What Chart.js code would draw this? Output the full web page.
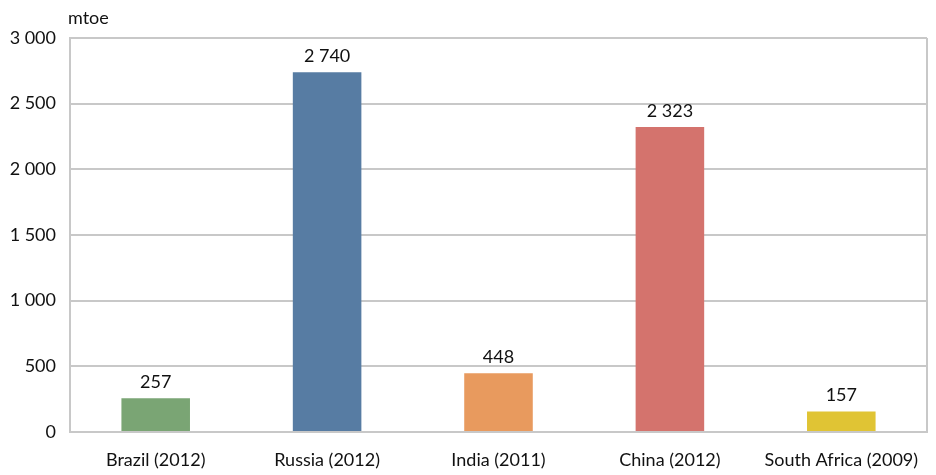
<!DOCTYPE html>
<html lang="en">
  <head>
    <meta charset="UTF-8" />
    <script src="https://cdn.jsdelivr.net/npm/chart.js@4/dist/chart.umd.min.js"></script>
    <title>Energy production</title>
    <style>
      body { margin: 0; background: #fff; }
      #wrap { width: 936px; height: 475px; }
    </style>
  </head>
  <body>
    <div id="wrap"><canvas id="myChart"></canvas></div>
    <script>
      const countries = ["Brazil (2012)", "Russia (2012)", "India (2011)", "China (2012)", "South Africa (2009)"];
      const values = [257, 2740, 448, 2323, 157];
      const barColors = ["#7aa574", "#577ca3", "#e89a5e", "#d4736d", "#e0c434"];
      const unitLabel = "mtoe";

      const fontFamily = "Lato, 'Open Sans', sans-serif";

      function fmt(v) {
        return String(v).replace(/\B(?=(\d{3})+(?!\d))/g, " ");
      }

      // draws the value above each bar and the unit above the axis
      const labelsPlugin = {
        id: "labels",
        afterDatasetsDraw(chart) {
          const ctx = chart.ctx;
          ctx.save();
          ctx.fillStyle = "#111";
          ctx.font = "18px " + fontFamily;
          ctx.textAlign = "center";
          ctx.textBaseline = "bottom";
          chart.getDatasetMeta(0).data.forEach((bar, i) => {
            ctx.fillText(fmt(values[i]), bar.x, bar.y - 7);
          });
          ctx.textAlign = "left";
          ctx.textBaseline = "middle";
          ctx.fillText(unitLabel, chart.chartArea.left - 2, 18);
          ctx.restore();
        },
      };

      new Chart(document.getElementById("myChart"), {
        type: "bar",
        data: {
          labels: countries,
          datasets: [
            {
              data: values,
              backgroundColor: barColors,
              barPercentage: 0.8,
              categoryPercentage: 0.5,
            },
          ],
        },
        options: {
          responsive: true,
          maintainAspectRatio: false,
          animation: false,
          layout: { padding: { top: 38, right: 9, left: 0, bottom: 0 } },
          plugins: {
            legend: { display: false },
            tooltip: { enabled: false },
          },
          scales: {
            x: {
              afterFit: (s) => { s.height = 43; },
              grid: { display: false, drawTicks: false },
              border: { color: "#c8c8c8", width: 2 },
              ticks: {
                color: "#111",
                font: { family: fontFamily, size: 18 },
                padding: 17,
                maxRotation: 0,
              },
            },
            y: {
              min: 0,
              max: 3000,
              afterFit: (s) => { s.width = 70; },
              grid: { color: "#c8c8c8", lineWidth: 2, drawTicks: false },
              border: { color: "#c8c8c8", width: 2 },
              ticks: {
                stepSize: 500,
                color: "#111",
                font: { family: fontFamily, size: 18 },
                padding: 14,
                callback: (v) => fmt(v),
              },
            },
          },
        },
        plugins: [
          labelsPlugin,
          {
            id: "frame",
            afterDraw(chart) {
              const a = chart.chartArea;
              const ctx = chart.ctx;
              ctx.save();
              ctx.strokeStyle = "#c8c8c8";
              ctx.lineWidth = 2;
              ctx.beginPath();
              ctx.moveTo(a.right, a.top);
              ctx.lineTo(a.right, a.bottom);
              ctx.stroke();
              ctx.restore();
            },
          },
        ],
      });
    </script>
  </body>
</html>
